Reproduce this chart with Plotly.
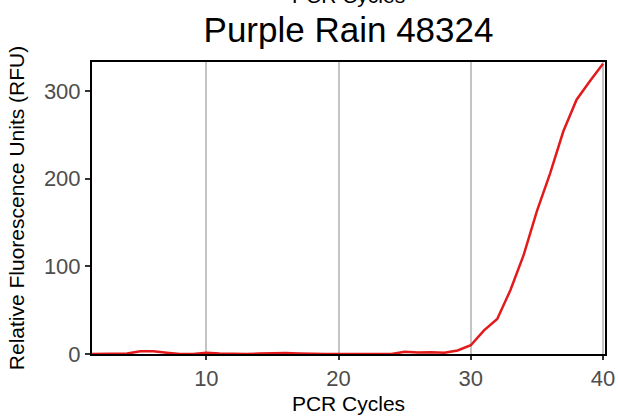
import plotly.graph_objects as go

cycles = list(range(1, 41))
rfu = [0, 0, 0, 0.5, 3, 3.2, 1.5, 0, 0, 1.5,
       0.5, 0, 0, 0.5, 1, 1, 0.5, 0, 0, 0,
       0, 0.5, 0, 0, 2.5, 1.8, 2, 1.5, 4, 10,
       27, 40, 73, 113, 163, 206, 254, 290, 311, 331]

title_text = "Purple Rain 48324"
x_title = "PCR Cycles"
y_title = "Relative Fluorescence Units (RFU)"
x_ticks = [10, 20, 30, 40]
y_ticks = [0, 100, 200, 300]

fig = go.Figure()
fig.add_trace(go.Scatter(x=cycles, y=rfu, mode="lines",
                         line=dict(color="#e31a1c", width=2.5),
                         showlegend=False, hoverinfo="x+y"))

font_family = "Liberation Sans, Arial, sans-serif"
fig.update_layout(
    width=618, height=418,
    margin=dict(l=92, r=13, t=62, b=64),
    paper_bgcolor="white", plot_bgcolor="white",
    title=dict(text=title_text, x=0.5, xref="paper", xanchor="center",
               y=1 - 30 / 418, yanchor="middle",
               font=dict(family=font_family, size=35, color="black")),
    font=dict(family=font_family),
    xaxis=dict(range=[1.35, 40.15], tickvals=x_ticks, automargin=False,
               showgrid=True, gridcolor="#c4c4c4", gridwidth=2,
               showline=True, linecolor="black", linewidth=2, mirror=True,
               ticks="outside", ticklen=4, tickwidth=2, tickcolor="#333333",
               tickfont=dict(size=22, color="#4d4d4d"),
               zeroline=False,
               title=dict(text=x_title, font=dict(size=21, color="black"), standoff=6)),
    yaxis=dict(range=[0, 333], tickvals=y_ticks, automargin=False,
               showgrid=False,
               showline=True, linecolor="black", linewidth=2, mirror=True,
               ticks="outside", ticklen=5, tickwidth=2, tickcolor="#333333",
               tickfont=dict(size=22, color="#4d4d4d"),
               zeroline=False,
               title=dict(text=y_title, font=dict(size=21, color="black"), standoff=14)),
)

fig.add_annotation(text=x_title, xref="paper", yref="paper", x=0.5, y=1.18,
                   xanchor="center", yanchor="bottom", showarrow=False,
                   font=dict(family=font_family, size=21, color="black"))

fig.write_html("out.html",
               config={"displayModeBar": False},
               post_script="document.body.style.margin='0';document.body.style.overflow='hidden';")
